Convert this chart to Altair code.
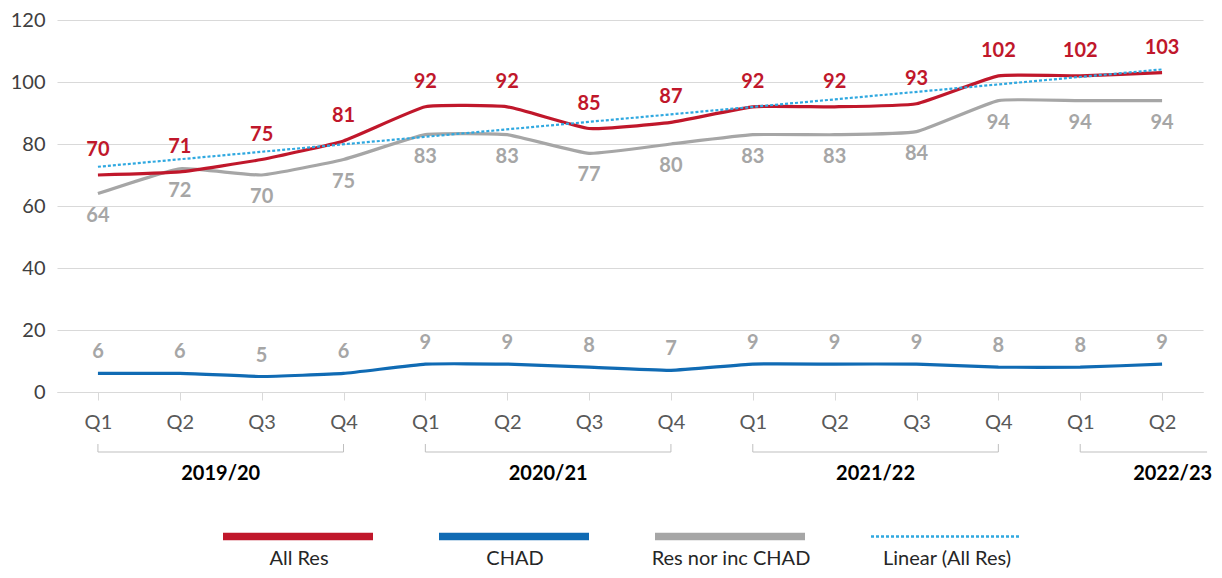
import altair as alt
import pandas as pd

# ---- data ----
quarters = ["Q1", "Q2", "Q3", "Q4", "Q1", "Q2", "Q3", "Q4", "Q1", "Q2", "Q3", "Q4", "Q1", "Q2"]
years = ["2019/20"] * 4 + ["2020/21"] * 4 + ["2021/22"] * 4 + ["2022/23"] * 2
all_res = [70, 71, 75, 81, 92, 92, 85, 87, 92, 92, 93, 102, 102, 103]
chad = [6, 6, 5, 6, 9, 9, 8, 7, 9, 9, 9, 8, 8, 9]
res_nor = [64, 72, 70, 75, 83, 83, 77, 80, 83, 83, 84, 94, 94, 94]
series_names = ["All Res", "CHAD", "Res nor inc CHAD", "Linear (All Res)"]
series_colors = ["#C0172B", "#106BB4", "#A6A6A6", "#2FA8E0"]
y_ticks = [0, 20, 40, 60, 80, 100, 120]

idx = list(range(len(quarters)))
wide = pd.DataFrame({"idx": idx, "quarter": quarters, "year": years,
                     "All Res": all_res, "CHAD": chad, "Res nor inc CHAD": res_nor})
long = wide.melt(id_vars=["idx", "quarter", "year"], value_vars=series_names[:3],
                 var_name="series", value_name="value")

W, H = 1146, 372
FONT = "Lato"
EDGE = len(quarters) - 0.5
label_expr = "[" + ",".join("'%s'" % q for q in quarters) + "][datum.value]"

xscale = alt.Scale(domain=[-0.5, EDGE], nice=False, zero=False)
yscale = alt.Scale(domain=[0, 120], nice=False)

x_main = alt.X("idx:Q", scale=xscale, title=None,
               axis=alt.Axis(values=idx, labelExpr=label_expr, grid=False,
                             domainColor="#D9D9D9", tickColor="#D9D9D9", tickSize=8,
                             labelFontSize=20, labelColor="#595959", labelFont=FONT,
                             labelPadding=12))
y_main = alt.Y("value:Q", scale=yscale, title=None,
               axis=alt.Axis(values=y_ticks, domain=False, ticks=False, gridColor="#D9D9D9",
                             labelFontSize=20, labelColor="#404040", labelFont=FONT,
                             labelPadding=12))

legend = alt.Legend(
    title=None, orient="none", legendX=231, legendY=529, direction="horizontal", columns=4,
    gridAlign="all",
    symbolType="M-1,-0.30H1", symbolSize=22500,
    symbolStrokeWidth={"expr": "datum.label === 'Linear (All Res)' ? 2.5 : 7.5"},
    symbolDash={"expr": "datum.label === 'Linear (All Res)' ? [3, 2] : [1, 0]"},
    labelAlign="center", labelBaseline="middle", labelOffset={"expr": "-9"},
    labelFontSize=20, labelFont=FONT, labelColor="#262626", columnPadding=36,
)
color = alt.Color("series:N", scale=alt.Scale(domain=series_names, range=series_colors),
                  legend=legend)

base = alt.Chart(long)


def line_layer(name):
    return base.transform_filter(alt.datum.series == name).mark_line(
        interpolate="cardinal", tension=0.6).encode(x=x_main, y=y_main, color=color,
                                                    strokeWidth=alt.value(3.2))


trend = base.transform_filter(alt.datum.series == "All Res").transform_regression(
    "idx", "value").transform_calculate(series="'Linear (All Res)'").mark_line(
    strokeDash=[3, 2]).encode(x=x_main, y=y_main, color=color, strokeWidth=alt.value(2.2))


def label_layer(name, dy, col):
    return base.transform_filter(alt.datum.series == name).mark_text(
        dy=dy, fontSize=20, fontWeight="bold", font=FONT).encode(
        x=alt.X("idx:Q", scale=xscale, title=None),
        y=alt.Y("value:Q", scale=yscale, title=None),
        text=alt.Text("value:Q", format="d"), color=alt.value(col))


ybase = alt.Chart(wide).transform_aggregate(
    lo="min(idx)", hi="max(idx)", n="count()", groupby=["year"]).transform_calculate(
    hi2="datum.n < 4 ? %f : datum.hi" % (EDGE + 0.05), mid="(datum.lo + datum.hi) / 2")

bracket = ybase.mark_rule(color="#BFBFBF", strokeWidth=1).encode(
    x=alt.X("lo:Q", scale=xscale, title=None), x2="hi2:Q", y=alt.value(432))
tick_l = ybase.mark_rule(color="#BFBFBF", strokeWidth=1).encode(
    x=alt.X("lo:Q", scale=xscale, title=None), y=alt.value(424), y2=alt.value(432))
tick_r = ybase.transform_filter("datum.n >= 4").mark_rule(color="#BFBFBF", strokeWidth=1).encode(
    x=alt.X("hi:Q", scale=xscale, title=None), y=alt.value(424), y2=alt.value(432))
ytext_full = ybase.transform_filter("datum.n >= 4").mark_text(
    fontSize=20, fontWeight="bold", font=FONT, color="#000000").encode(
    x=alt.X("mid:Q", scale=xscale, title=None), y=alt.value(454), text="year:N")
ytext_part = ybase.transform_filter("datum.n < 4").mark_text(
    fontSize=20, fontWeight="bold", font=FONT, color="#000000", align="right", dx=5).encode(
    x=alt.X("hi2:Q", scale=xscale, title=None), y=alt.value(454), text="year:N")

chart = alt.layer(
    line_layer("Res nor inc CHAD"), line_layer("CHAD"), line_layer("All Res"), trend,
    label_layer("All Res", -25, "#C0172B"),
    label_layer("Res nor inc CHAD", 22, "#A6A6A6"),
    label_layer("CHAD", -21, "#A6A6A6"),
    bracket, tick_l, tick_r, ytext_full, ytext_part,
).properties(
    width=W, height=H,
    autosize=alt.AutoSizeParams(type="none"),
    padding={"left": 49, "top": 12, "right": 11, "bottom": 178},
).configure_view(stroke=None)

chart.save("out.html", embed_options={"renderer": "svg", "actions": False})
